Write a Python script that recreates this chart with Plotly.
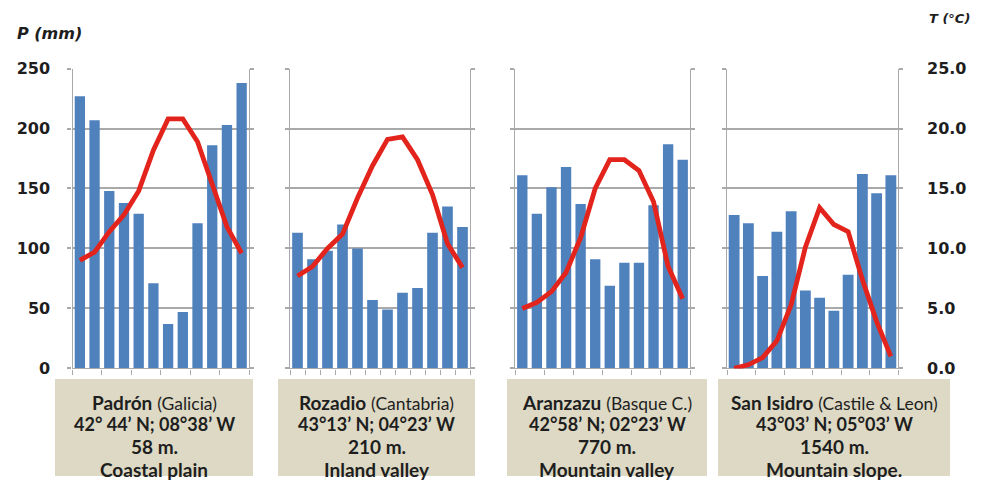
import plotly.graph_objects as go

# Monthly climate normals for four stations in northern Spain
months = ["Jan", "Feb", "Mar", "Apr", "May", "Jun",
          "Jul", "Aug", "Sep", "Oct", "Nov", "Dec"]

padron_p = [227, 207, 148, 138, 129, 71, 37, 47, 121, 186, 203, 238]
padron_t = [9.0, 9.7, 11.4, 12.8, 14.8, 18.2, 20.8, 20.8, 18.9, 15.4, 11.8, 9.6]

rozadio_p = [113, 91, 98, 120, 100, 57, 49, 63, 67, 113, 135, 118]
rozadio_t = [7.7, 8.5, 10.0, 11.2, 14.2, 16.9, 19.1, 19.3, 17.4, 14.5, 10.4, 8.4]

aranzazu_p = [161, 129, 151, 168, 137, 91, 69, 88, 88, 136, 187, 174]
aranzazu_t = [5.0, 5.5, 6.4, 8.0, 10.9, 15.0, 17.4, 17.4, 16.5, 13.9, 8.5, 5.8]

sanisidro_p = [128, 121, 77, 114, 131, 65, 59, 48, 78, 162, 146, 161]
sanisidro_t = [0.0, 0.3, 0.9, 2.3, 5.3, 10.1, 13.4, 12.0, 11.4, 7.4, 3.9, 1.0]

station_names = ["Padrón", "Rozadio", "Aranzazu", "San Isidro"]
station_regions = ["(Galicia)", "(Cantabria)", "(Basque C.)", "(Castile & Leon)"]
station_coords = ["42° 44’ N; 08°38’ W", "43°13’ N; 04°23’ W",
                  "42°58’ N; 02°23’ W", "43°03’ N; 05°03’ W"]
station_elev = ["58 m.", "210 m.", "770 m.", "1540 m."]
station_setting = ["Coastal plain", "Inland valley", "Mountain valley", "Mountain slope."]

p_ticks = [0, 50, 100, 150, 200, 250]
t_ticks = [0.0, 5.0, 10.0, 15.0, 20.0, 25.0]

precip = [padron_p, rozadio_p, aranzazu_p, sanisidro_p]
temps = [padron_t, rozadio_t, aranzazu_t, sanisidro_t]

W, H = 989, 486
BAR = "#4f81bd"
LINE = "#e3241c"
GRID = "#a9a9a9"
BOX = "#ddd9c4"
INK = "#1e1e1e"

# Pixel extents of each panel and its caption box
panel_x = [(72.5, 249), (290, 470), (515, 690), (727, 898)]
box_x = [(55, 253), (278, 475), (507, 707), (718, 950)]
bar_w = [0.70, 0.71, 0.71, 0.76]
plot_top, plot_bottom = 62, 374
ydom = [1 - plot_bottom / H, 1 - plot_top / H]

fig = go.Figure()
layout = dict(
    width=W, height=H,
    margin=dict(l=0, r=0, t=0, b=0),
    paper_bgcolor="white", plot_bgcolor="rgba(0,0,0,0)",
    showlegend=False,
    shapes=[], annotations=[],
)

# precipitation bars first so the temperature curves sit on top
for i in range(4):
    n = i + 1
    xa = "x" if n == 1 else f"x{n}"
    ya = "y" if n == 1 else f"y{n}"
    fig.add_trace(go.Bar(
        x=months, y=precip[i], xaxis=xa, yaxis=ya,
        marker=dict(color=BAR, line=dict(width=0)), width=bar_w[i],
    ))
for i in range(4):
    n = i + 1
    xa = "x" if n == 1 else f"x{n}"
    fig.add_trace(go.Scatter(
        x=months, y=temps[i], xaxis=xa, yaxis=f"y{n + 4}", mode="lines",
        line=dict(color=LINE, width=4.8),
    ))

for i in range(4):
    n = i + 1
    xa = "x" if n == 1 else f"x{n}"
    ya = "y" if n == 1 else f"y{n}"
    x0, x1 = panel_x[i]
    layout["xaxis" if n == 1 else f"xaxis{n}"] = dict(
        domain=[x0 / W, x1 / W], anchor=ya, type="category",
        categoryorder="array", categoryarray=months,
        range=[-0.5, 11.5], showline=True, linecolor=GRID, linewidth=1.3,
        ticks="outside", tickson="boundaries", ticklen=5, tickcolor=GRID,
        tickwidth=1.2, showticklabels=False, showgrid=False, zeroline=False,
    )
    layout["yaxis" if n == 1 else f"yaxis{n}"] = dict(
        domain=ydom, anchor=xa, range=[0, 250], tickvals=p_ticks,
        showgrid=True, gridcolor=GRID, gridwidth=1.8,
        showline=True, mirror="allticks", linecolor=GRID, linewidth=1.3,
        ticks="outside", ticklen=4, tickcolor=GRID, tickwidth=1.8,
        zeroline=False, showticklabels=(n == 1), ticklabelstandoff=14,
        tickfont=dict(family="DejaVu Sans", size=16, color=INK, weight="bold"),
    )
    # temperature scale shares the panel's plotting area
    layout[f"yaxis{n + 4}"] = dict(
        domain=ydom, anchor=xa, side="right", range=[0, 25],
        tickvals=t_ticks, tickformat=".1f",
        showgrid=False, zeroline=False, showline=False, ticks="",
        showticklabels=(n == 4), ticklabelstandoff=28,
        tickfont=dict(family="DejaVu Sans", size=16, color=INK, weight="bold"),
    )

    # caption box
    bx0, bx1 = box_x[i]
    layout["shapes"].append(dict(
        type="rect", xref="paper", yref="paper",
        x0=bx0 / W, x1=bx1 / W, y0=0, y1=1 - 385 / H,
        fillcolor=BOX, line=dict(width=0), layer="below",
    ))
    cx = (bx0 + bx1) / 2 / W
    lines = [
        (f"<b>{station_names[i]}</b> <span style='font-size:17.5px'>{station_regions[i]}</span>", 19, 410),
        (f"<b>{station_coords[i]}</b>", 18, 432),
        (f"<b>{station_elev[i]}</b>", 19, 455),
        (f"<b>{station_setting[i]}</b>", 19, 479),
    ]
    for txt, size, ypx in lines:
        layout["annotations"].append(dict(
            text=txt, xref="paper", yref="paper", x=cx, y=1 - ypx / H,
            xanchor="center", yanchor="middle", showarrow=False,
            font=dict(family="Lato", size=size, color=INK),
        ))

layout["annotations"].append(dict(
    text="P (mm)", xref="paper", yref="paper", x=15 / W, y=1 - 25 / H,
    xanchor="left", yanchor="middle", showarrow=False,
    font=dict(family="DejaVu Sans", size=16, color=INK, weight="bold", style="italic"),
))
layout["annotations"].append(dict(
    text="T (°C)", xref="paper", yref="paper", x=927 / W, y=1 - 10 / H,
    xanchor="left", yanchor="middle", showarrow=False,
    font=dict(family="DejaVu Sans", size=13, color=INK, weight="bold", style="italic"),
))

fig.update_layout(**layout)
fig.write_html("out.html")
